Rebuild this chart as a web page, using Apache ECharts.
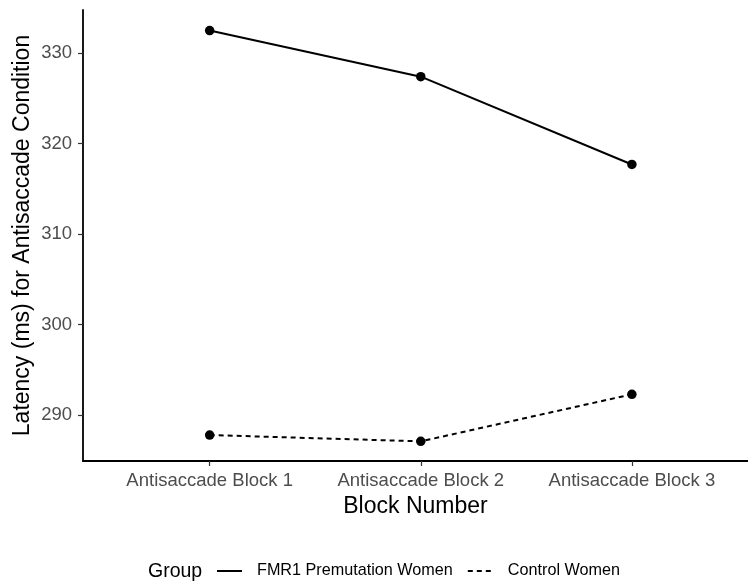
<!DOCTYPE html>
<html>
<head>
<meta charset="utf-8">
<script src="https://cdn.jsdelivr.net/npm/echarts@6/dist/echarts.min.js"></script>
<style>html,body{margin:0;padding:0;background:#fff}#c{width:748px;height:588px}</style>
</head>
<body>
<div id="c"></div>
<script>
const categories = ['Antisaccade Block 1', 'Antisaccade Block 2', 'Antisaccade Block 3'];
const fmr1Values = [332.5, 327.4, 317.7];
const controlValues = [287.8, 287.1, 292.3];
const yTicks = [290, 300, 310, 320, 330];
const seriesNames = ['FMR1 Premutation Women', 'Control Women'];

const toPoints = vals => vals.map((v, i) => [i + 1, v]);
const font = 'Liberation Sans, Arial, sans-serif';

const chart = echarts.init(document.getElementById('c'));
chart.setOption({
  animation: false,
  backgroundColor: '#fff',
  textStyle: { fontFamily: font },
  grid: { left: 83, right: 0, top: 10, bottom: 127, containLabel: false },
  xAxis: {
    type: 'value', min: 0.4, max: 3.55,
    name: 'Block Number', nameLocation: 'middle', nameGap: 32,
    nameTextStyle: { fontSize: 23, color: '#000', fontFamily: font },
    axisLine: { show: true, lineStyle: { color: '#000', width: 1.8 } },
    axisTick: { show: true, length: 5, customValues: [1, 2, 3], lineStyle: { color: '#333', width: 1.2 } },
    axisLabel: { customValues: [1, 2, 3], formatter: v => categories[Math.round(v) - 1] || '', fontSize: 18.5, color: '#4d4d4d', margin: 10, fontFamily: font },
    splitLine: { show: false }
  },
  yAxis: {
    type: 'value', min: 284.93, max: 334.77,
    name: 'Latency (ms) for Antisaccade Condition', nameLocation: 'middle', nameGap: 49,
    nameMoveOverlap: false,
    nameTextStyle: { fontSize: 23, color: '#000', fontFamily: font },
    axisLine: { show: true, lineStyle: { color: '#000', width: 1.8 } },
    axisTick: { show: true, length: 5, customValues: yTicks, lineStyle: { color: '#333', width: 1.2 } },
    axisLabel: { customValues: yTicks, fontSize: 18.5, color: '#4d4d4d', margin: 11, fontFamily: font },
    splitLine: { show: false }
  },
  legend: {
    top: 558, left: 211,
    itemWidth: 25, itemHeight: 18, itemGap: 14,
    textStyle: { fontSize: 16.2, color: '#000', fontFamily: font, padding: [0, 0, 0, 10] },
    itemStyle: { color: 'rgba(0,0,0,0)', borderWidth: 0 },
    data: seriesNames
  },
  graphic: [{
    type: 'text', x: 148, y: 572,
    style: { text: 'Group', fontSize: 19.5, fill: '#000', fontFamily: font, verticalAlign: 'middle' }
  }],
  series: [
    {
      name: seriesNames[0], type: 'line', data: toPoints(fmr1Values),
      symbol: 'circle', symbolSize: 9.5,
      lineStyle: { color: '#000', width: 2, type: 'solid' },
      itemStyle: { color: '#000' }
    },
    {
      name: seriesNames[1], type: 'line', data: toPoints(controlValues),
      symbol: 'circle', symbolSize: 9.5,
      lineStyle: { color: '#000', width: 2, type: [5, 4] },
      itemStyle: { color: '#000' }
    }
  ]
});
</script>
</body>
</html>
